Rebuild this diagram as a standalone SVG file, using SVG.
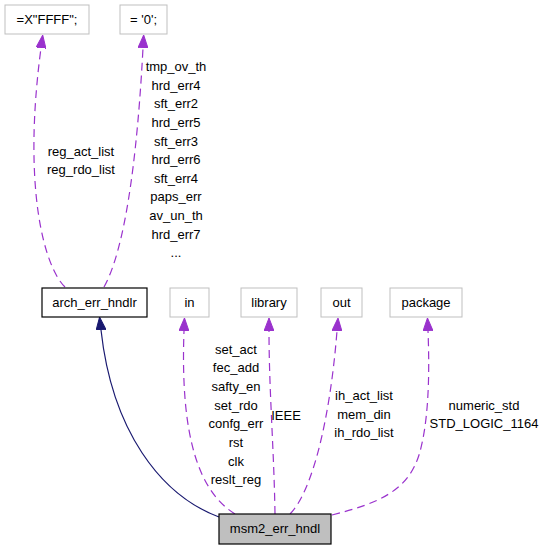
<svg xmlns="http://www.w3.org/2000/svg" width="543" height="549" viewBox="0 0 543 549">
<style>
text{font-family:"Liberation Sans",Arial,sans-serif;font-size:13px;fill:#000;text-anchor:middle}
.gbox{fill:#fff;stroke:#bfbfbf;stroke-width:1}
.bbox{fill:#fff;stroke:#000;stroke-width:1.2}
.main{fill:#bfbfbf;stroke:#000;stroke-width:1.2}
.dep{fill:none;stroke:#9a32cd;stroke-width:1.2;stroke-dasharray:8,5;marker-end:url(#pa)}
.inh{fill:none;stroke:#191970;stroke-width:1.2;marker-end:url(#ba)}
</style>
<defs>
<marker id="pa" viewBox="0 0 13 10" refX="0" refY="5" markerWidth="13" markerHeight="10" markerUnits="userSpaceOnUse" orient="auto"><path d="M0,0 L13,5 L0,10 z" fill="#9a32cd" stroke="#9a32cd" stroke-width="1"/></marker>
<marker id="ba" viewBox="0 0 13 10" refX="0" refY="5" markerWidth="13" markerHeight="10" markerUnits="userSpaceOnUse" orient="auto"><path d="M0,0 L13,5 L0,10 z" fill="#191970" stroke="#191970" stroke-width="1"/></marker>
</defs>
<g id="connectors">
<path class="dep" d="M65,287 C45,268 22,190 41,48"/>
<path class="dep" d="M104,287 C118,262 135,200 143,48"/>
<path class="inh" d="M219,517 C160,495 112,430 101,330"/>
<path class="dep" d="M235,514 C200,492 180,440 184,331"/>
<path class="dep" d="M275,514 C274,450 269,390 269,331"/>
<path class="dep" d="M290,514 C312,492 330,420 337,331"/>
<path class="dep" d="M332,515 C380,503 408,490 419,455 C428,425 430,380 428,331"/>
<g id="labels">
<text x="81" y="155.5">reg_act_list</text>
<text x="81" y="173.5">reg_rdo_list</text>
<text x="176" y="71">tmp_ov_th</text>
<text x="176" y="89.6">hrd_err4</text>
<text x="176" y="108.2">sft_err2</text>
<text x="176" y="126.8">hrd_err5</text>
<text x="176" y="145.5">sft_err3</text>
<text x="176" y="164.1">hrd_err6</text>
<text x="176" y="182.7">sft_err4</text>
<text x="176" y="201.3">paps_err</text>
<text x="176" y="219.9">av_un_th</text>
<text x="176" y="238.5">hrd_err7</text>
<text x="176" y="257.1">...</text>
<text x="236" y="353.5">set_act</text>
<text x="236" y="372.2">fec_add</text>
<text x="236" y="390.9">safty_en</text>
<text x="236" y="409.6">set_rdo</text>
<text x="236" y="428.3">confg_err</text>
<text x="236" y="447">rst</text>
<text x="236" y="465.7">clk</text>
<text x="236" y="484.4">reslt_reg</text>
<text x="286" y="419.5">IEEE</text>
<text x="364" y="400">ih_act_list</text>
<text x="364" y="418.7">mem_din</text>
<text x="364" y="437.3">ih_rdo_list</text>
<text x="484" y="409.5">numeric_std</text>
<text x="484" y="428">STD_LOGIC_1164</text>
</g>
</g>
<g id="node-xffff"><rect class="gbox" x="5" y="5" width="84" height="29"/><text x="47" y="23.5">=X"FFFF";</text></g>
<g id="node-zero"><rect class="gbox" x="120" y="5" width="47" height="29"/><text x="143.5" y="23.5">= '0';</text></g>
<g id="node-arch"><rect class="bbox" x="42" y="288" width="105" height="29"/><text x="94.5" y="306.5">arch_err_hndlr</text></g>
<g id="node-in"><rect class="gbox" x="170" y="288" width="39" height="29"/><text x="189.5" y="306.5">in</text></g>
<g id="node-library"><rect class="gbox" x="241" y="288" width="56" height="29"/><text x="269" y="306.5">library</text></g>
<g id="node-out"><rect class="gbox" x="321" y="288" width="41" height="29"/><text x="341.5" y="306.5">out</text></g>
<g id="node-package"><rect class="gbox" x="390" y="288" width="72" height="29"/><text x="426" y="306.5">package</text></g>
<g id="node-msm2"><rect class="main" x="219" y="514" width="112" height="30"/><text x="275" y="533">msm2_err_hndl</text></g>
</svg>
